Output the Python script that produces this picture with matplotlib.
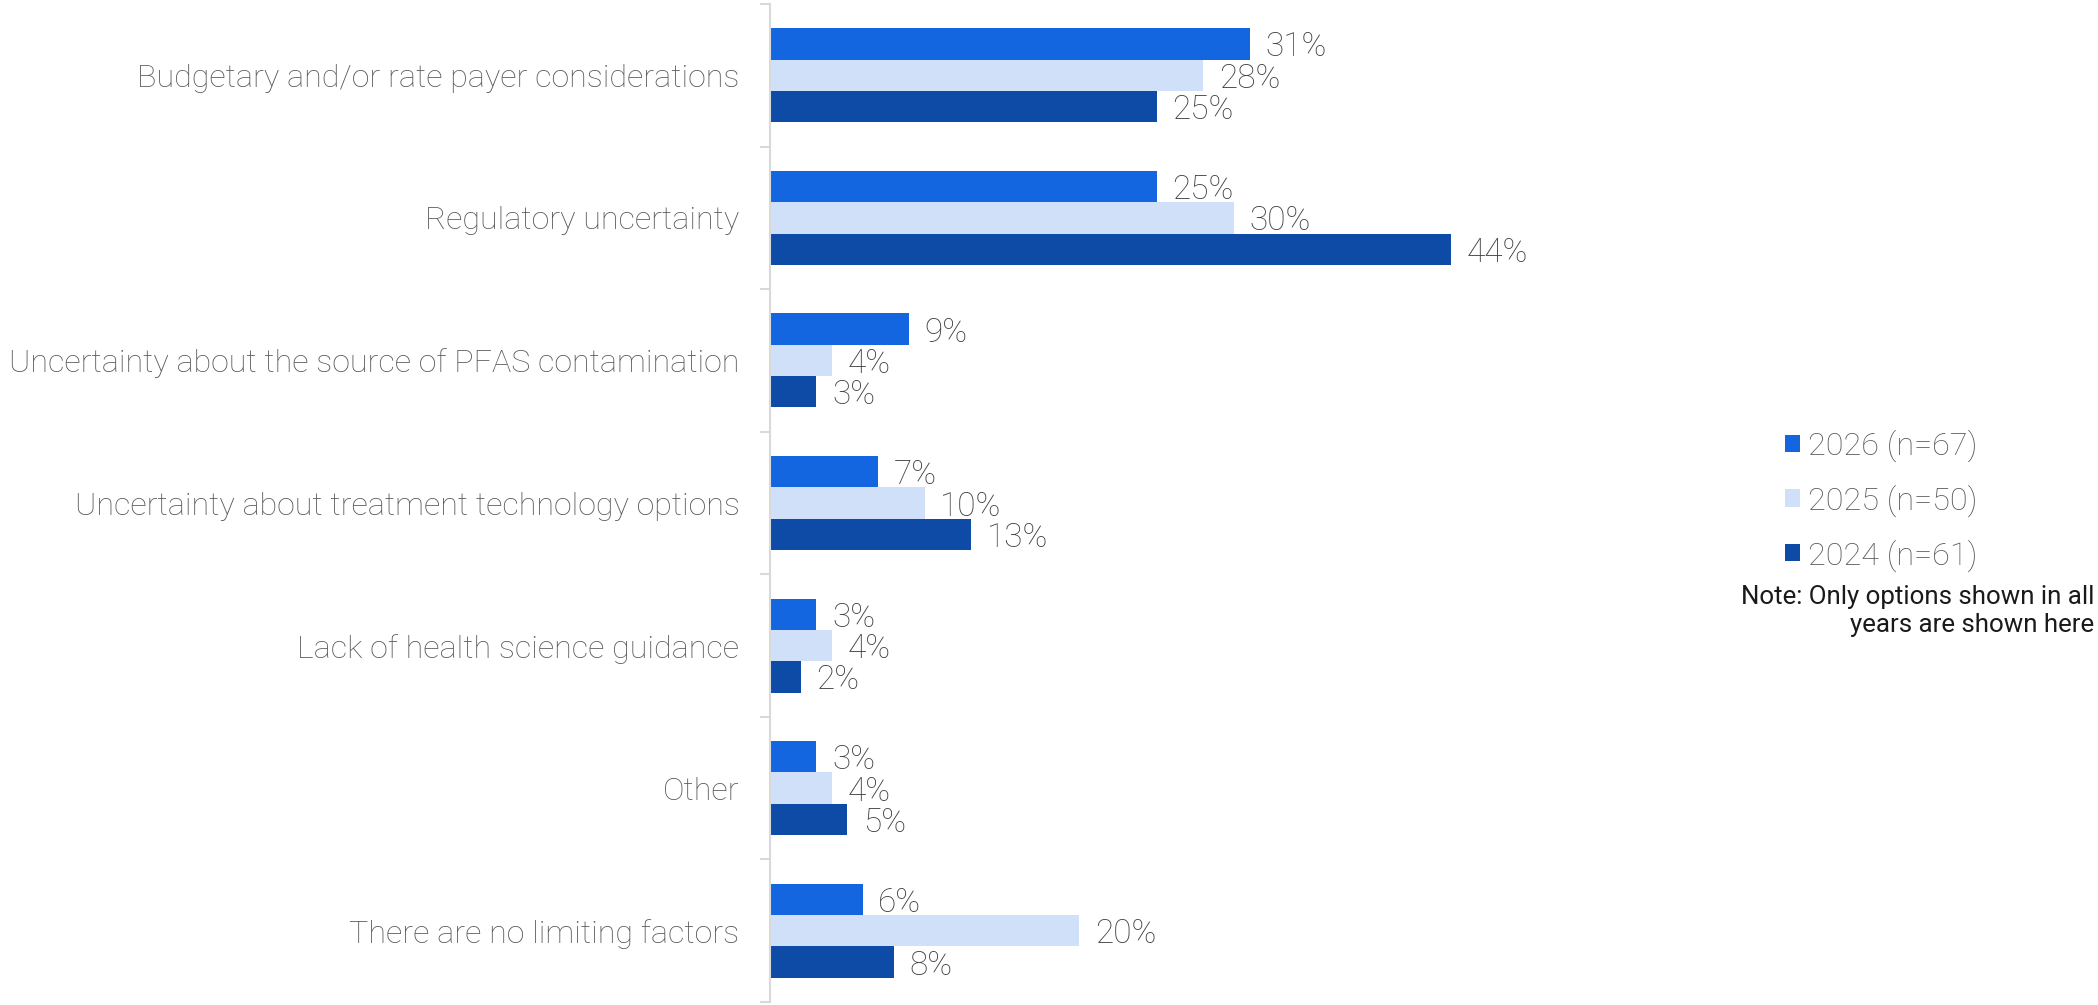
import numpy as np
import matplotlib.pyplot as plt
from matplotlib.patches import Patch

categories = [
    'Budgetary and/or rate payer considerations',
    'Regulatory uncertainty',
    'Uncertainty about the source of PFAS contamination',
    'Uncertainty about treatment technology options',
    'Lack of health science guidance',
    'Other',
    'There are no limiting factors',
]
series_names = ['2026 (n=67)', '2025 (n=50)', '2024 (n=61)']
vals_2026 = [31, 25, 9, 7, 3, 3, 6]
vals_2025 = [28, 30, 4, 10, 4, 4, 20]
vals_2024 = [25, 44, 3, 13, 2, 5, 8]
colors = ['#1366E0', '#CFE0F8', '#0D4BA7']
note = 'Note: Only options shown in all\nyears are shown here'

plt.rcParams['font.family'] = ['Roboto', 'DejaVu Sans']

fig = plt.figure(figsize=(20.98, 10.05), dpi=100)
ax = fig.add_axes([770 / 2098, 3 / 1005, 773.5 / 2098, 998 / 1005])

y = np.arange(len(categories))
h = 0.22
for i, (vals, c) in enumerate(zip([vals_2026, vals_2025, vals_2024], colors)):
    pos = y + (i - 1) * h
    ax.barh(pos, vals, height=h, color=c, edgecolor='none')
    for p, v in zip(pos, vals):
        ax.text(v + 1.0, p, f'{v}%', va='center_baseline', ha='left',
                fontsize=24, color='#404040', fontweight='light')

ax.set_ylim(len(categories) - 0.5, -0.5)
ax.set_xlim(0, 50)
ax.set_yticks(y)
ax.set_yticklabels(categories, fontsize=23.2, color='#595959', fontweight='light')
ax.set_yticks(np.arange(len(categories) + 1) - 0.5, minor=True)
ax.tick_params(axis='y', which='major', length=0, pad=22)
ax.tick_params(axis='y', which='minor', length=7.5, width=1.5, color='#d9d9d9')
ax.set_xticks([])
for s in ['top', 'right', 'bottom']:
    ax.spines[s].set_visible(False)
ax.spines['left'].set_color('#d9d9d9')
ax.spines['left'].set_linewidth(1.5)

handles = [Patch(facecolor=c, edgecolor='none') for c in colors]
leg = fig.legend(handles, series_names, loc='upper left',
                 bbox_to_anchor=(1785 / 2098, 1 - 430 / 1005), frameon=False,
                 fontsize=23.3, handlelength=0.45, handleheight=0.45,
                 handletextpad=0.25, labelspacing=0.69, borderpad=0, borderaxespad=0)
for t in leg.get_texts():
    t.set_color('#595959')
    t.set_fontweight('light')

fig.text(2094 / 2098, 1 - 585 / 1005, note, ha='right', va='top',
         fontsize=18.6, color='#1a1a1a', linespacing=1.22)

fig.savefig('out.png', dpi=100)
